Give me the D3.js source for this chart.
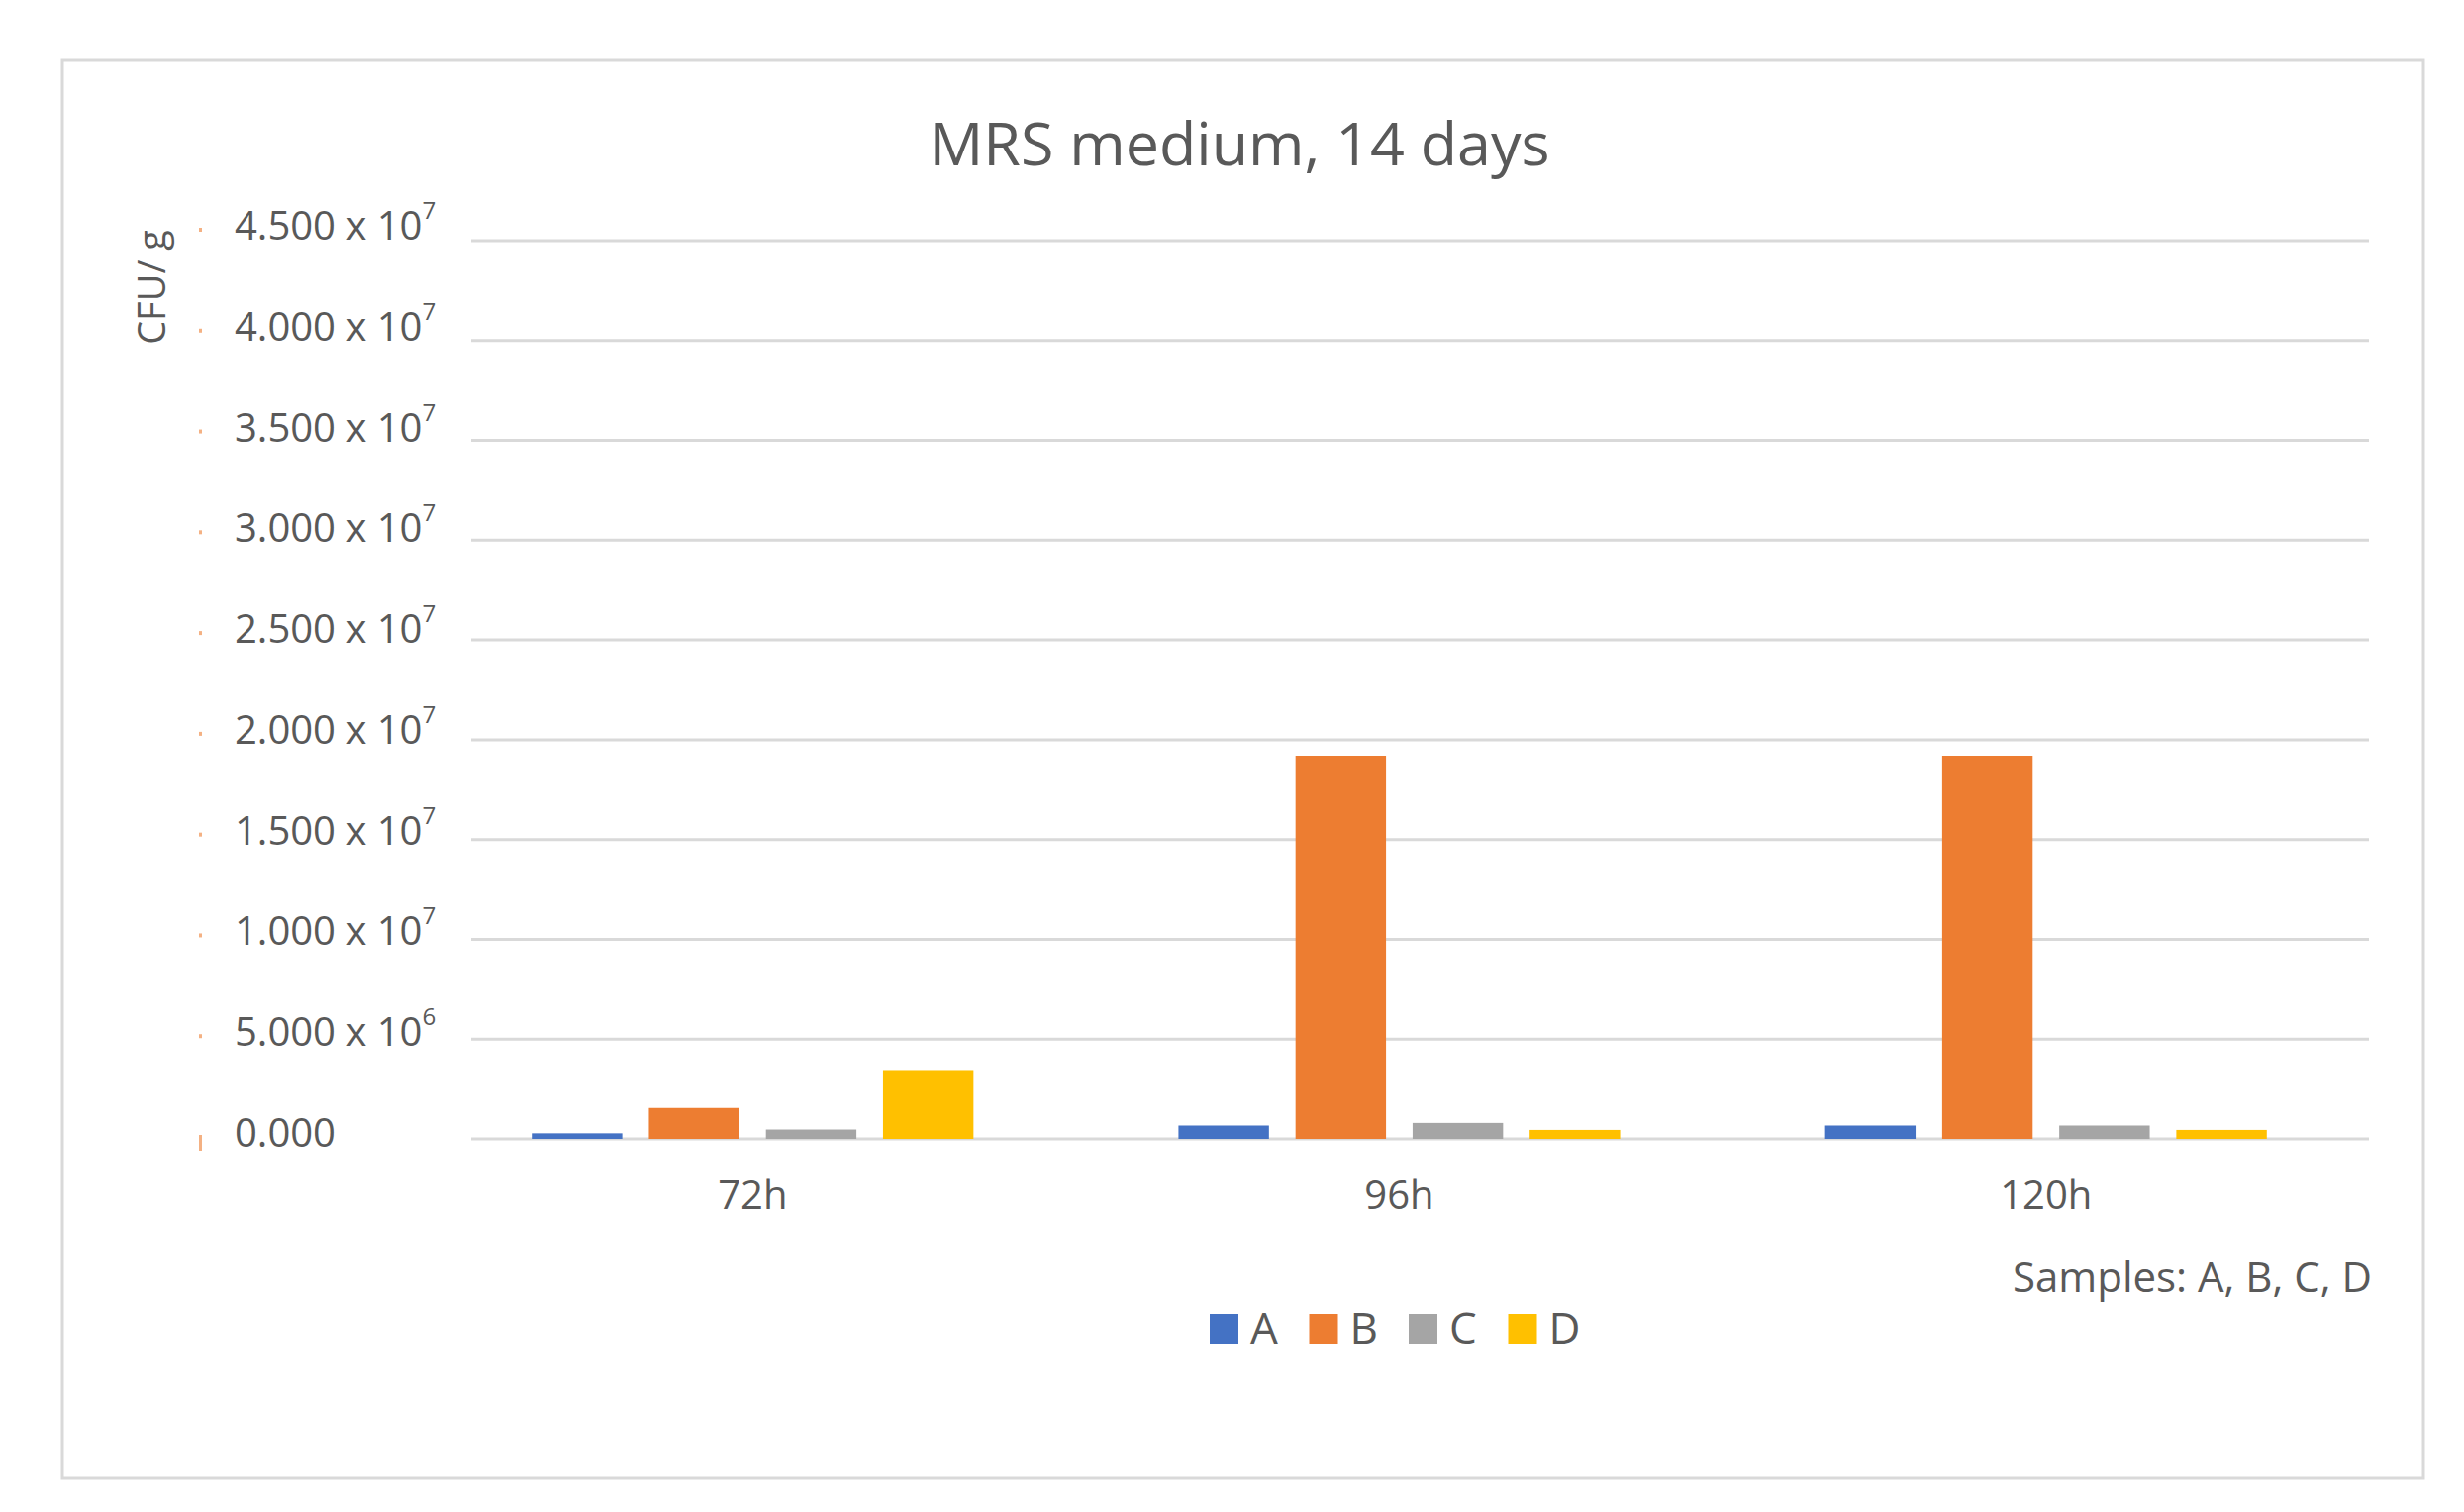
<!DOCTYPE html>
<html>
<head>
<meta charset="utf-8">
<script src="https://cdn.jsdelivr.net/npm/d3@7"></script>
<style>
  body { margin: 0; background: #fff; }
  text { font-family: 'Open Sans', sans-serif; fill: #595959; }
</style>
</head>
<body>
<div id="chart"></div>
<script>
// chart values
const categories = ['72h', '96h', '120h'];
const series = ['A', 'B', 'C', 'D'];
const seriesColors = ['#4472C4', '#ED7D31', '#A5A5A5', '#FFC000'];
const valuesA = [0.28e6, 0.67e6, 0.67e6];
const valuesB = [1.55e6, 1.92e7, 1.92e7];
const valuesC = [0.47e6, 0.80e6, 0.67e6];
const valuesD = [3.40e6, 0.45e6, 0.45e6];
const yTicks = [0, 5e6, 1e7, 1.5e7, 2e7, 2.5e7, 3e7, 3.5e7, 4e7, 4.5e7];
const yTickText = ['0.000', '5.000 x 10', '1.000 x 10', '1.500 x 10', '2.000 x 10',
                   '2.500 x 10', '3.000 x 10', '3.500 x 10', '4.000 x 10', '4.500 x 10'];
const yTickExp = ['', '6', '7', '7', '7', '7', '7', '7', '7', '7'];

document.addEventListener('DOMContentLoaded', function(){
    drawChart();
});

function drawChart() {
    const W = 2489, H = 1527;
    const svg = d3.select('#chart').append('svg').attr('width', W).attr('height', H);
    const allValues = [valuesA, valuesB, valuesC, valuesD];

    // outer frame
    svg.append('rect')
        .attr('x', 63).attr('y', 61)
        .attr('width', 2385).attr('height', 1432)
        .attr('fill', 'none').attr('stroke', '#d9d9d9').attr('stroke-width', 3);

    let y = d3.scaleLinear().domain([0, 4.5e7]).range([1150, 243]);
    // tick labels sit a little above their grid lines, more so at the top
    let yLabel = d3.scaleLinear().domain([0, 4.5e7]).range([1158, 242]);

    let x0 = d3.scaleBand().domain(categories).range([434, 2393])
        .paddingInner(0.317).paddingOuter(0.158);
    let x1 = d3.scaleBand().domain(series).range([0, x0.bandwidth()]).paddingInner(0.227);

    // grid lines
    svg.append('g').selectAll('line').data(yTicks).enter().append('line')
        .attr('x1', 476).attr('x2', 2393)
        .attr('y1', d => y(d)).attr('y2', d => y(d))
        .attr('stroke', '#d9d9d9').attr('stroke-width', 3);

    // y labels
    let labels = svg.append('g').selectAll('text').data(yTicks).enter().append('text')
        .attr('x', 237)
        .attr('y', d => yLabel(d))
        .attr('font-size', 40);
    labels.append('tspan').text((d, i) => yTickText[i]);
    labels.append('tspan').attr('dy', -21).attr('font-size', 24).text((d, i) => yTickExp[i]);

    // little orange marks left of the labels
    svg.append('g').selectAll('rect').data(yTicks).enter().append('rect')
        .attr('x', 201).attr('y', d => yLabel(d) - 12)
        .attr('width', 3).attr('height', d => d === 0 ? 16 : 4)
        .attr('fill', '#f4b183');

    // y title
    svg.append('text')
        .attr('transform', 'translate(167,290) rotate(-90)')
        .attr('text-anchor', 'middle')
        .attr('font-size', 38)
        .text('CFU/ g');

    // title
    svg.append('text')
        .attr('x', 1252).attr('y', 167)
        .attr('text-anchor', 'middle')
        .attr('font-size', 61)
        .text('MRS medium, 14 days');

    // bars
    let groups = svg.append('g').selectAll('g').data(categories).enter().append('g')
        .attr('transform', d => 'translate(' + x0(d) + ',0)');
    groups.selectAll('rect')
        .data((c, ci) => series.map((s, si) => ({s: s, si: si, v: allValues[si][ci]})))
        .enter().append('rect')
        .attr('x', d => x1(d.s))
        .attr('y', d => y(d.v))
        .attr('width', x1.bandwidth())
        .attr('height', d => y(0) - y(d.v))
        .attr('fill', d => seriesColors[d.si]);

    // x axis labels
    let xAxis = svg.append('g').attr('transform', 'translate(0,' + y(0) + ')')
        .call(d3.axisBottom(x0).tickSize(0).tickPadding(43));
    xAxis.select('.domain').remove();
    xAxis.selectAll('text')
        .attr('font-size', 40)
        .attr('font-family', "'Open Sans', sans-serif")
        .attr('fill', '#595959');

    // note
    svg.append('text')
        .attr('x', 2396).attr('y', 1305)
        .attr('text-anchor', 'end')
        .attr('font-size', 42)
        .text('Samples: A, B, C, D');

    // legend
    let legend = svg.append('g').selectAll('g').data(series).enter().append('g')
        .attr('transform', (d, i) => 'translate(' + (1222 + i * 100.5) + ',1327)');
    legend.append('rect')
        .attr('width', 29).attr('height', 30)
        .attr('fill', (d, i) => seriesColors[i]);
    legend.append('text')
        .attr('x', 41).attr('y', 30)
        .attr('font-size', 44)
        .text(d => d);
}
</script>
</body>
</html>
